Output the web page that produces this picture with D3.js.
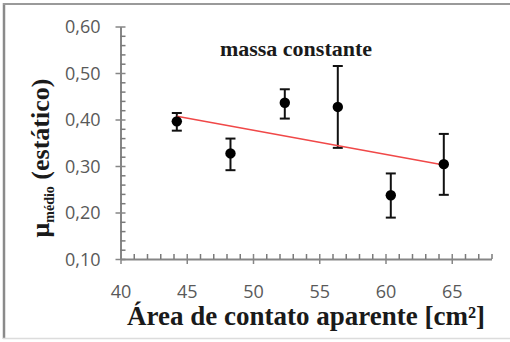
<!DOCTYPE html>
<html><head><meta charset="utf-8">
<script src="https://cdn.jsdelivr.net/npm/d3@7"></script>
<style>html,body{margin:0;padding:0;background:#fff;}</style>
</head><body>
<svg id="c" width="510" height="342"></svg>
<script>
// Data
const area = [44.25, 48.3, 52.4, 56.4, 60.4, 64.4];
const mu = [0.396, 0.327, 0.436, 0.427, 0.237, 0.304];
const errLow = [0.376, 0.291, 0.402, 0.339, 0.189, 0.238];
const errHigh = [0.414, 0.359, 0.465, 0.515, 0.284, 0.369];
const xTicks = [40, 45, 50, 55, 60, 65];
const yTicks = [0.10, 0.20, 0.30, 0.40, 0.50, 0.60];
const annotation = "massa constante";

const svg = d3.select("#c");
// frame
svg.append("rect").attr("x",0).attr("y",0).attr("width",510).attr("height",342).attr("fill","#fff");
svg.append("line").attr("x1",4).attr("x2",4).attr("y1",3).attr("y2",339).attr("stroke","#8a8a8a").attr("stroke-width",2.5);
svg.append("line").attr("x1",3).attr("x2",510).attr("y1",4).attr("y2",4).attr("stroke","#9a9a9a").attr("stroke-width",2);
svg.append("line").attr("x1",3).attr("x2",510).attr("y1",338.5).attr("y2",338.5).attr("stroke","#dcdcdc").attr("stroke-width",1.5);

const x = d3.scaleLinear().domain([40, 68]).range([120.5, 491.5]);
const y = d3.scaleLinear().domain([0.10, 0.60]).range([259, 26.5]);
const axisColor = "#868686";

// axes
const yAxis = d3.axisLeft(y).tickValues(yTicks).tickSizeInner(5).tickSizeOuter(0)
  .tickFormat(d => d3.format(".2f")(d).replace(".", ","));
const gy = svg.append("g").attr("transform", `translate(${x(40)},0)`).call(yAxis);
const xAxis = d3.axisBottom(x).tickValues(xTicks).tickSizeInner(5).tickSizeOuter(0).tickFormat(d3.format("d"));
const gx = svg.append("g").attr("transform", `translate(0,${y(0.10)})`).call(xAxis);

// minor ticks via axes (inside)
const yMinor = d3.range(6, 30).filter(k => k % 5 !== 0).map(k => k / 50);
const xMinor = d3.range(41, 69).filter(v => v % 5 !== 0);
svg.append("g").attr("transform", `translate(${x(40)},0)`)
  .call(d3.axisRight(y).tickValues(yMinor).tickSize(5).tickFormat(""))
  .call(a => a.select(".domain").remove())
  .selectAll("line").attr("stroke", "#7a7a7a").attr("stroke-width", 1.5);
svg.append("g").attr("transform", `translate(0,${y(0.10)})`)
  .call(d3.axisTop(x).tickValues(xMinor).tickSize(5).tickFormat(""))
  .call(a => a.select(".domain").remove())
  .selectAll("line").attr("stroke", "#7a7a7a").attr("stroke-width", 1.5);

[gy, gx].forEach(ax => {
  ax.select(".domain").attr("stroke", axisColor).attr("stroke-width", 2);
  ax.selectAll(".tick line").attr("stroke", axisColor).attr("stroke-width", 1.5);
  ax.selectAll(".tick text").attr("fill", "#595959").attr("font-family", "'Open Sans', sans-serif").attr("font-size", 18);
});
// major ticks crossing axis
gy.selectAll(".tick line").attr("x1", 5).attr("x2", -5);
gx.selectAll(".tick line").attr("y1", -5).attr("y2", 5);
gy.selectAll(".tick text").attr("x", -20).attr("dy", "0.35em");
gx.selectAll(".tick text").attr("y", 39).attr("dy", 0);

// trend line (least squares)
const mx = d3.mean(area), my = d3.mean(mu);
const slope = d3.sum(area.map((a,i)=>(a-mx)*(mu[i]-my))) / d3.sum(area.map(a=>(a-mx)*(a-mx)));
const icpt = my - slope*mx;
const x0 = d3.min(area), x1 = d3.max(area);

// error bars
const eb = svg.append("g");
area.forEach((a,i) => {
  eb.append("line").attr("x1", x(a)).attr("x2", x(a)).attr("y1", y(errLow[i])).attr("y2", y(errHigh[i]))
    .attr("stroke", "#111").attr("stroke-width", 2);
  [errLow[i], errHigh[i]].forEach(v => {
    eb.append("line").attr("x1", x(a)-5).attr("x2", x(a)+5).attr("y1", y(v)).attr("y2", y(v))
      .attr("stroke", "#111").attr("stroke-width", 2);
  });
});
svg.append("line").attr("x1", x(x0)).attr("y1", y(icpt+slope*x0)).attr("x2", x(x1)).attr("y2", y(icpt+slope*x1))
  .attr("stroke", "#f04848").attr("stroke-width", 1.5);
svg.selectAll("circle.pt").data(area).join("circle").attr("class","pt")
  .attr("cx", d => x(d)).attr("cy", (d,i) => y(mu[i])).attr("r", 5.2).attr("fill", "#000");

// annotation
svg.append("text").attr("x", 296).attr("y", 56).attr("text-anchor", "middle")
  .attr("font-family", "'Liberation Serif', serif").attr("font-weight", "bold").attr("font-size", 22)
  .attr("fill", "#1a1a1a").text(annotation);

// x title
svg.append("text").attr("x", 306).attr("y", 325).attr("text-anchor", "middle")
  .attr("font-family", "'Liberation Serif', serif").attr("font-weight", "bold").attr("font-size", 27)
  .attr("fill", "#1a1a1a").text("Área de contato aparente [cm²]");

// y title
const yt = svg.append("text").attr("transform", "translate(49,158) rotate(-90)").attr("text-anchor", "middle")
  .attr("font-family", "'Liberation Serif', serif").attr("font-weight", "bold").attr("font-size", 26)
  .attr("fill", "#1a1a1a");
yt.append("tspan").text("μ");
yt.append("tspan").attr("font-size", 14).attr("dy", 5).text("médio");
yt.append("tspan").attr("dy", -5).text(" (estático)");
</script>
</body></html>
